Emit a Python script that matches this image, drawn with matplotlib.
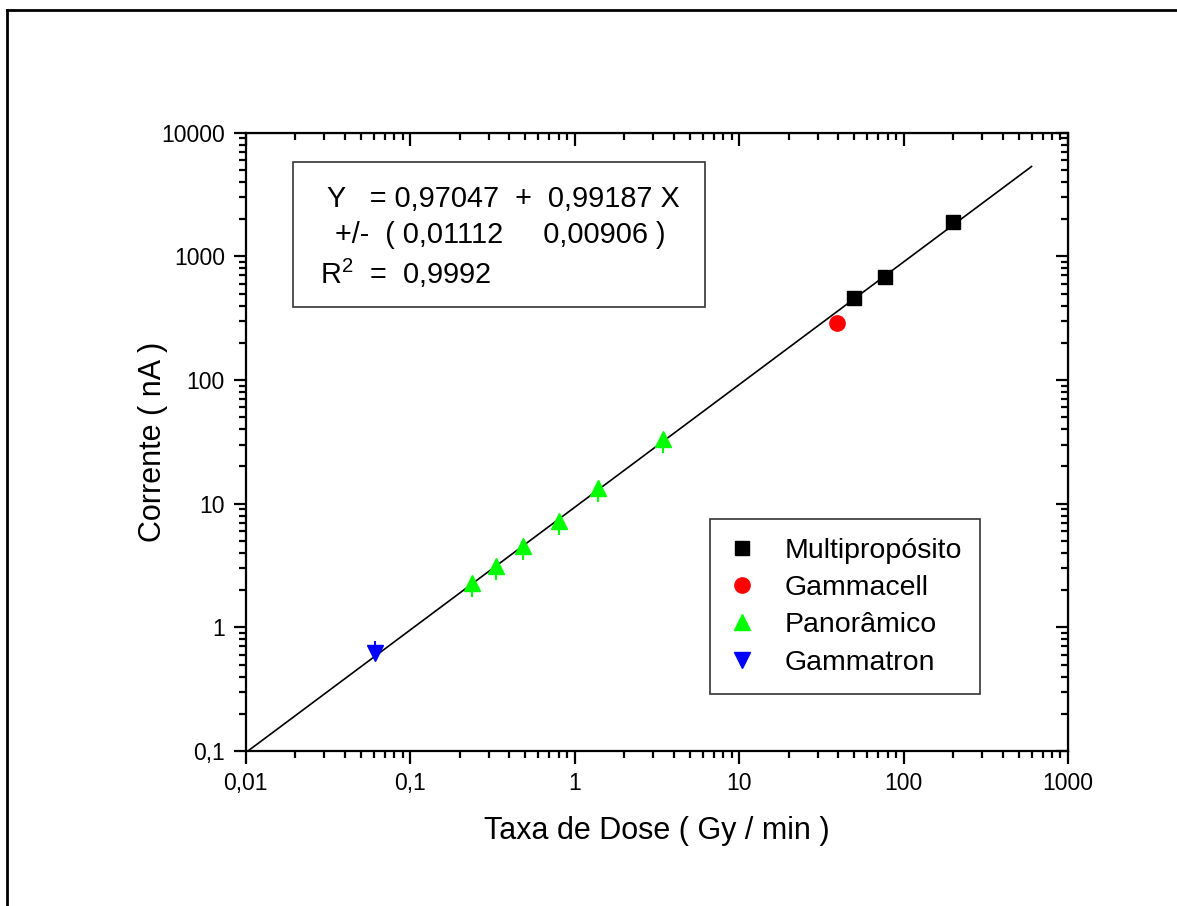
import matplotlib
matplotlib.use("Agg")
import matplotlib.pyplot as plt
import numpy as np
from matplotlib.lines import Line2D
from matplotlib.patches import Rectangle

plt.rcParams['font.family'] = ['Liberation Sans', 'DejaVu Sans']
plt.rcParams['mathtext.fontset'] = 'custom'
plt.rcParams['mathtext.rm'] = 'Liberation Sans'

# Data (dose rate in Gy/min, current in nA)
multi_x = [50.1, 77.5, 201]
multi_y = [459, 682, 1905]
gcell_x = [39.4]
gcell_y = [290]
pan_x = [0.238, 0.333, 0.484, 0.801, 1.392, 3.465]
pan_y = [2.28, 3.14, 4.58, 7.22, 13.3, 33.2]
pan_err = [0.52, 0.72, 1.05, 1.65, 3.05, 7.6]
gtron_x = [0.0607]
gtron_y = [0.621]
gtron_err = [0.15]

# linear fit in log-log space: log(Y) = A + B log(X)
fit_a, fit_b = 0.97047, 0.99187
fit_xrange = [0.01, 600]

fig = plt.figure(figsize=(11.77, 9.06), dpi=100)
ax = fig.add_axes([0.2088, 0.1711, 0.6986, 0.6825])

fx = np.logspace(np.log10(fit_xrange[0]), np.log10(fit_xrange[1]), 50)
ax.plot(fx, 10 ** (fit_a + fit_b * np.log10(fx)), color='black', lw=1.2, zorder=2)

ax.plot(multi_x, multi_y, 's', color='black', ms=10, label='Multipropósito', zorder=3)
ax.plot(gcell_x, gcell_y, 'o', color='#ff0000', ms=11, label='Gammacell', zorder=3)
ax.errorbar(pan_x, pan_y, yerr=[pan_err, [0] * len(pan_y)], fmt='none',
            ecolor='#00ff00', elinewidth=1.5, capsize=0, zorder=3)
ax.plot(pan_x, pan_y, '^', color='#00ff00', ms=12, label='Panorâmico', zorder=3)
ax.errorbar(gtron_x, gtron_y, yerr=[[0], gtron_err], fmt='none',
            ecolor='#0000ff', elinewidth=1.5, capsize=0, zorder=3)
ax.plot(gtron_x, gtron_y, 'v', color='#0000ff', ms=12, label='Gammatron', zorder=3)

ax.set_xscale('log')
ax.set_yscale('log')
ax.set_xlim(0.01, 1000)
ax.set_ylim(0.1, 10000)

xt = [0.01, 0.1, 1, 10, 100, 1000]
yt = [0.1, 1, 10, 100, 1000, 10000]
ax.set_xticks(xt)
ax.set_xticklabels(['0,01', '0,1', '1', '10', '100', '1000'])
ax.set_yticks(yt)
ax.set_yticklabels(['0,1', '1', '10', '100', '1000', '10000'])

for s in ax.spines.values():
    s.set_linewidth(1.6)
ax.tick_params(which='both', width=1.6, labelsize=16.5, pad=6)
ax.tick_params(which='major', length=9)
ax.tick_params(which='minor', length=5)
# ticks outside on bottom/left, inside on top/right
ax.tick_params(which='both', direction='out', bottom=True, left=True)
ax2 = ax.secondary_xaxis('top')
ax2.set_xticks(xt)
ax2.tick_params(which='both', direction='in', width=1.6, labeltop=False)
ax2.tick_params(which='major', length=9)
ax2.tick_params(which='minor', length=5)
ax3 = ax.secondary_yaxis('right')
ax3.set_yticks(yt)
ax3.tick_params(which='both', direction='in', width=1.6, labelright=False)
ax3.tick_params(which='major', length=9)
ax3.tick_params(which='minor', length=5)

ax.set_xlabel('Taxa de Dose ( Gy / min )', fontsize=22, labelpad=15)
ax.set_ylabel('Corrente ( nA )', fontsize=22, labelpad=-5)

# fit results box
ax.add_patch(Rectangle((0.057, 0.7186), 0.502, 0.234, transform=ax.transAxes,
                       fill=False, edgecolor='#333333', lw=1.2, zorder=4))
ax.text(0.099, 0.893, 'Y   = 0,97047  +  0,99187 X', transform=ax.transAxes,
        fontsize=20.8, va='center', ha='left')
ax.text(0.1086, 0.835, '+/-  ( 0,01112     0,00906 )', transform=ax.transAxes,
        fontsize=20.8, va='center', ha='left')
ax.text(0.0904, 0.773, r'R$^{2}$  =  0,9992', transform=ax.transAxes,
        fontsize=20.8, va='center', ha='left')

leg = ax.legend(loc='upper left', bbox_to_anchor=(0.564, 0.375), fontsize=20.5,
                frameon=True, fancybox=False, borderpad=0.65, labelspacing=0.4,
                handlelength=1.0, handletextpad=0.98, borderaxespad=0)
leg.get_frame().set_edgecolor('black')
leg.get_frame().set_linewidth(1.2)

# outer frame (top and left edges)
fig.add_artist(Line2D([7 / 1177, 1.0], [1 - 10 / 906, 1 - 10 / 906],
                      transform=fig.transFigure, color='black', lw=2))
fig.add_artist(Line2D([7 / 1177, 7 / 1177], [0.0, 1 - 10 / 906],
                      transform=fig.transFigure, color='black', lw=2))

fig.savefig('out.png', dpi=100)
